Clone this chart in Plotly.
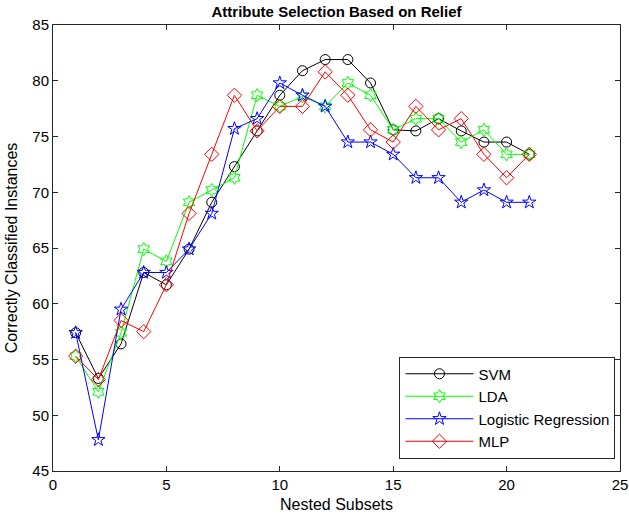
import plotly.graph_objects as go

subsets = list(range(1, 22))
svm = [57.4, 53.3, 56.4, 62.8, 61.7, 64.9, 69.1, 72.3, 75.5, 78.7, 80.9, 81.9, 81.9, 79.8, 75.6, 75.5, 76.6, 75.5, 74.5, 74.5, 73.4]
lda = [55.3, 52.1, 57.4, 64.9, 63.8, 69.1, 70.2, 71.3, 78.7, 77.7, 78.6, 77.7, 79.8, 78.7, 75.6, 76.6, 76.6, 74.5, 75.6, 73.4, 73.4]
logreg = [57.4, 47.8, 59.5, 62.8, 62.8, 64.9, 68.1, 75.7, 76.6, 79.8, 78.7, 77.7, 74.5, 74.5, 73.4, 71.3, 71.3, 69.1, 70.2, 69.1, 69.1]
mlp = [55.3, 53.2, 58.5, 57.5, 61.7, 68.1, 73.4, 78.7, 75.5, 77.7, 77.7, 80.8, 78.7, 75.6, 74.5, 77.7, 75.6, 76.6, 73.4, 71.3, 73.4]

series = [
    ("SVM", svm, "#000000", "circle-open", 10),
    ("LDA", lda, "#00FF00", "hexagram-open", 10),
    ("Logistic Regression", logreg, "#0000FF", "star-open", 10),
    ("MLP", mlp, "#FF0000", "diamond-open", 11),
]

fig = go.Figure()
for name, vals, col, sym, sz in series:
    fig.add_trace(go.Scatter(
        x=subsets, y=vals, mode="lines+markers", name=name,
        line=dict(color=col, width=1),
        marker=dict(symbol=sym, size=sz, color=col, line=dict(color=col, width=1)),
    ))

axis_common = dict(
    showgrid=False, zeroline=False, showline=True, linecolor="#262626", linewidth=1,
    mirror="ticks", ticks="inside", ticklen=5, tickcolor="#262626",
    tickfont=dict(size=15, color="#000000"), automargin=False,
)

fig.update_layout(
    width=629, height=532,
    margin=dict(l=53, r=9, t=25, b=61),
    paper_bgcolor="white", plot_bgcolor="white",
    font=dict(family="Liberation Sans, Arial, sans-serif", color="#000000"),
    title=dict(text="<b>Attribute Selection Based on Relief</b>", x=0.5, xref="paper", xanchor="center",
               y=0.977, yanchor="middle", font=dict(size=15, color="#000000")),
    xaxis=dict(range=[0, 25], tickvals=[0, 5, 10, 15, 20, 25],
               title=dict(text="Nested Subsets", font=dict(size=16), standoff=6), **axis_common),
    yaxis=dict(range=[45, 85], tickvals=[45, 50, 55, 60, 65, 70, 75, 80, 85],
               title=dict(text="Correctly Classified Instances", font=dict(size=16), standoff=10), **axis_common),
    legend=dict(x=0.992, y=0.028, xanchor="right", yanchor="bottom",
                bgcolor="white", bordercolor="#262626", borderwidth=1,
                font=dict(size=15), tracegroupgap=0, itemwidth=68),
    showlegend=True,
)

fig.write_html("out.html", config={"displayModeBar": False},
               post_script="document.body.style.margin='0';document.body.style.padding='0';")
